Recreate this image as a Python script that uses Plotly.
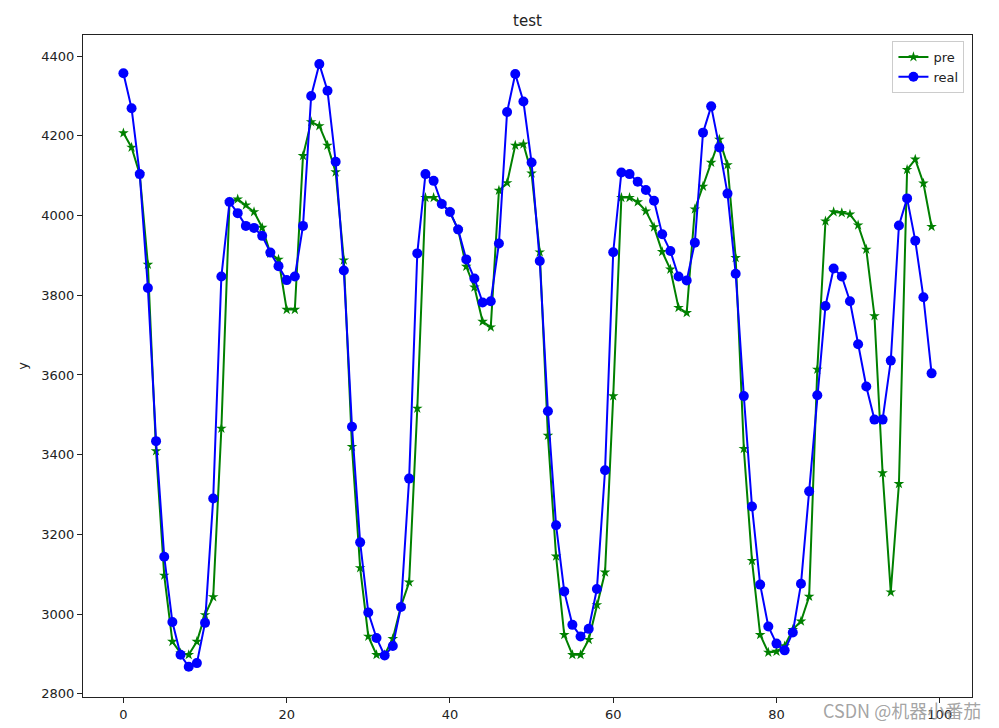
import plotly.graph_objects as go

x = list(range(100))

pre = [4207, 4171, 4104, 3877, 3409, 3097, 2931, 2902, 2898, 2931,
       2998, 3043, 3466, 4034, 4041, 4026, 4009, 3970, 3905, 3890,
       3764, 3764, 4150, 4235, 4225, 4176, 4109, 3888, 3420, 3116,
       2944, 2898, 2898, 2938, 3020, 3080, 3516, 4045, 4045, 4030,
       4009, 3965, 3872, 3820, 3734, 3720, 4063, 4082, 4176, 4179,
       4106, 3908, 3448, 3145, 2948, 2898, 2898, 2936, 3023, 3105,
       3547, 4045, 4045, 4034, 4011, 3971, 3909, 3865, 3769, 3756,
       4016, 4073, 4133, 4191, 4127, 3894, 3415, 3134, 2948, 2904,
       2906, 2920, 2961, 2982, 3044, 3614, 3986, 4009, 4007, 4003,
       3976, 3915, 3748, 3354, 3055, 3327, 4115, 4141, 4081, 3972]

real = [4357, 4269, 4104, 3818, 3434, 3144, 2980, 2898, 2868, 2877,
        2978, 3290, 3847, 4034, 4006, 3974, 3969, 3949, 3907, 3873,
        3838, 3847, 3974, 4300, 4380, 4313, 4135, 3862, 3470, 3180,
        3004, 2940, 2896, 2920, 3018, 3340, 3905, 4104, 4087, 4029,
        4009, 3965, 3890, 3842, 3782, 3785, 3930, 4260, 4355, 4286,
        4133, 3886, 3509, 3223, 3057, 2973, 2944, 2963, 3063, 3361,
        3908, 4108, 4104, 4085, 4064, 4037, 3953, 3911, 3847, 3837,
        3932, 4208, 4274, 4171, 4055, 3854, 3547, 3270, 3074, 2969,
        2926, 2909, 2954, 3076, 3308, 3549, 3773, 3867, 3847, 3785,
        3677, 3571, 3488, 3488, 3636, 3975, 4043, 3937, 3795, 3604]

x_ticks = [0, 20, 40, 60, 80, 100]
y_ticks = [2800, 3000, 3200, 3400, 3600, 3800, 4000, 4200, 4400]

fig = go.Figure()
fig.add_trace(go.Scatter(x=x, y=pre, mode="lines+markers", name="pre",
                         line=dict(color="green", width=2),
                         marker=dict(symbol="star", size=8, color="green")))
fig.add_trace(go.Scatter(x=x, y=real, mode="lines+markers", name="real",
                         line=dict(color="blue", width=2),
                         marker=dict(symbol="circle", size=10, color="blue")))

axis_common = dict(showgrid=False, zeroline=False, showline=True, linecolor="#222222",
                   linewidth=1, mirror=True, ticks="outside", ticklen=5,
                   tickcolor="#222222", automargin=False,
                   tickfont=dict(size=13, color="#222222"))

fig.update_layout(
    width=999, height=728,
    margin=dict(l=83, r=27, t=35, b=31),
    paper_bgcolor="white", plot_bgcolor="white",
    font=dict(family="DejaVu Sans", size=13, color="#222222"),
    title=dict(text="test", x=0.528, xanchor="center", y=1 - 21 / 728, yanchor="middle",
               font=dict(size=15)),
    xaxis=dict(range=[-4.95, 103.95], tickvals=x_ticks, **axis_common),
    yaxis=dict(range=[2792, 4453], tickvals=y_ticks, **axis_common),
    yaxis_title=dict(text="y", standoff=10, font=dict(size=13)),
    legend=dict(x=0.9915, y=0.991, xanchor="right", yanchor="top",
                bgcolor="rgba(255,255,255,0.8)", bordercolor="#cccccc", borderwidth=1,
                font=dict(size=13), itemwidth=30, tracegroupgap=0),
    showlegend=True,
)

fig.add_annotation(text="CSDN @机器小番茄", xref="paper", yref="paper",
                   x=(983 - 83) / 889, y=-13 / 662, xanchor="right", yanchor="middle",
                   showarrow=False,
                   font=dict(family="Noto Sans CJK SC", size=18, color="rgba(140,140,140,0.8)"))

fig.write_html("out.html")
